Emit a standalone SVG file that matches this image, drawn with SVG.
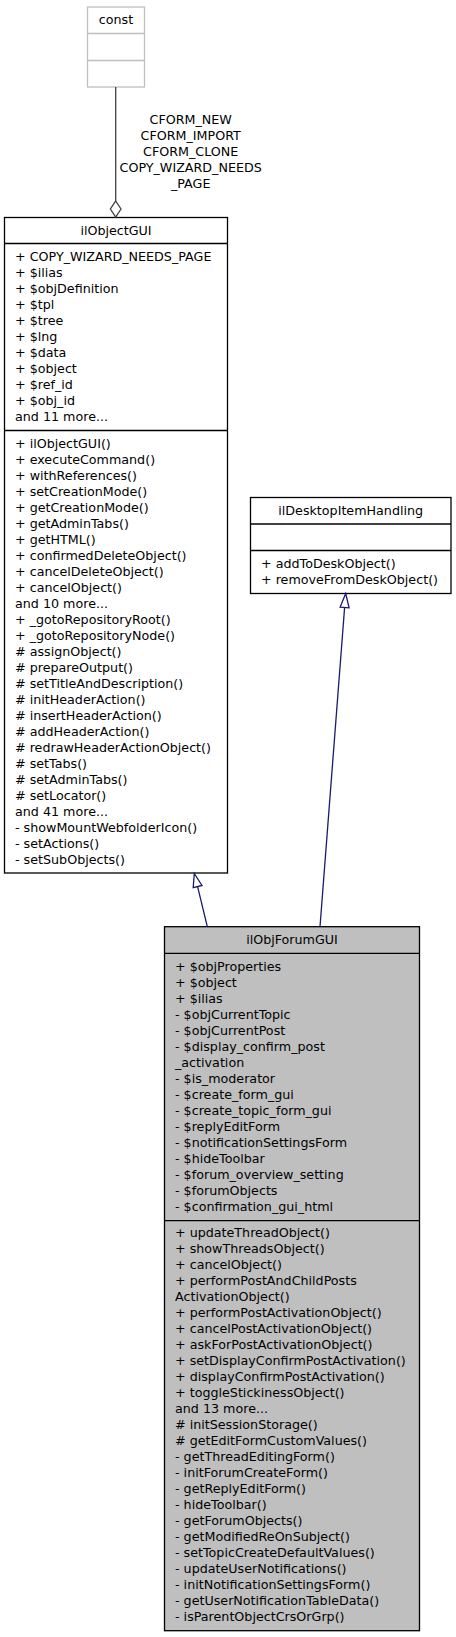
<svg xmlns="http://www.w3.org/2000/svg" width="456" height="1637" viewBox="0 0 456 1637">
<style>
text{font-family:"DejaVu Sans","Liberation Sans",sans-serif;font-size:12.7px;fill:#000}
.c{text-anchor:middle}
.box{fill:#fff;stroke:#000;stroke-width:1.3}
.gbox{fill:#fff;stroke:#bfbfbf;stroke-width:1.3}
.fbox{fill:#bfbfbf;stroke:#000;stroke-width:1.3}
.inh{fill:none;stroke:#191970;stroke-width:1.3}
.head{fill:#fff;stroke:#191970;stroke-width:1.3}
.comp{fill:none;stroke:#404040;stroke-width:1.3}
</style>
<g id="const">
<rect class="gbox" x="87.5" y="7" width="57" height="80"/>
<line class="gbox" x1="87.5" y1="33.5" x2="144.5" y2="33.5"/>
<line class="gbox" x1="87.5" y1="60.5" x2="144.5" y2="60.5"/>
<text class="c" x="116" y="24">const</text>
</g>
<g id="ilObjectGUI">
<rect class="box" x="4.5" y="217.5" width="223" height="655.5"/>
<line class="box" x1="4.5" y1="243.5" x2="227.5" y2="243.5"/>
<line class="box" x1="4.5" y1="430.5" x2="227.5" y2="430.5"/>
<text class="c" x="116" y="235">ilObjectGUI</text>
<text x="15" y="261"><tspan x="15">+ COPY_WIZARD_NEEDS_PAGE</tspan><tspan x="15" dy="16">+ $ilias</tspan><tspan x="15" dy="16">+ $objDefinition</tspan><tspan x="15" dy="16">+ $tpl</tspan><tspan x="15" dy="16">+ $tree</tspan><tspan x="15" dy="16">+ $lng</tspan><tspan x="15" dy="16">+ $data</tspan><tspan x="15" dy="16">+ $object</tspan><tspan x="15" dy="16">+ $ref_id</tspan><tspan x="15" dy="16">+ $obj_id</tspan><tspan x="15" dy="16">and 11 more...</tspan></text>
<text x="15" y="448"><tspan x="15">+ ilObjectGUI()</tspan><tspan x="15" dy="16">+ executeCommand()</tspan><tspan x="15" dy="16">+ withReferences()</tspan><tspan x="15" dy="16">+ setCreationMode()</tspan><tspan x="15" dy="16">+ getCreationMode()</tspan><tspan x="15" dy="16">+ getAdminTabs()</tspan><tspan x="15" dy="16">+ getHTML()</tspan><tspan x="15" dy="16">+ confirmedDeleteObject()</tspan><tspan x="15" dy="16">+ cancelDeleteObject()</tspan><tspan x="15" dy="16">+ cancelObject()</tspan><tspan x="15" dy="16">and 10 more...</tspan><tspan x="15" dy="16">+ _gotoRepositoryRoot()</tspan><tspan x="15" dy="16">+ _gotoRepositoryNode()</tspan><tspan x="15" dy="16"># assignObject()</tspan><tspan x="15" dy="16"># prepareOutput()</tspan><tspan x="15" dy="16"># setTitleAndDescription()</tspan><tspan x="15" dy="16"># initHeaderAction()</tspan><tspan x="15" dy="16"># insertHeaderAction()</tspan><tspan x="15" dy="16"># addHeaderAction()</tspan><tspan x="15" dy="16"># redrawHeaderActionObject()</tspan><tspan x="15" dy="16"># setTabs()</tspan><tspan x="15" dy="16"># setAdminTabs()</tspan><tspan x="15" dy="16"># setLocator()</tspan><tspan x="15" dy="16">and 41 more...</tspan><tspan x="15" dy="16">- showMountWebfolderIcon()</tspan><tspan x="15" dy="16">- setActions()</tspan><tspan x="15" dy="16">- setSubObjects()</tspan></text>
</g>
<g id="ilDesktopItemHandling">
<rect class="box" x="250.5" y="497.5" width="200.5" height="96"/>
<line class="box" x1="250.5" y1="524" x2="451" y2="524"/>
<line class="box" x1="250.5" y1="550.5" x2="451" y2="550.5"/>
<text class="c" x="350.7" y="515">ilDesktopItemHandling</text>
<text x="261" y="567.5"><tspan x="261">+ addToDeskObject()</tspan><tspan x="261" dy="16">+ removeFromDeskObject()</tspan></text>
</g>
<g id="ilObjForumGUI">
<rect class="fbox" x="164.5" y="926.7" width="255" height="704"/>
<line class="fbox" x1="164.5" y1="953.3" x2="419.5" y2="953.3"/>
<line class="fbox" x1="164.5" y1="1220.7" x2="419.5" y2="1220.7"/>
<text class="c" x="292" y="943.5">ilObjForumGUI</text>
<text x="175" y="971"><tspan x="175">+ $objProperties</tspan><tspan x="175" dy="16">+ $object</tspan><tspan x="175" dy="16">+ $ilias</tspan><tspan x="175" dy="16">- $objCurrentTopic</tspan><tspan x="175" dy="16">- $objCurrentPost</tspan><tspan x="175" dy="16">- $display_confirm_post</tspan><tspan x="175" dy="16">_activation</tspan><tspan x="175" dy="16">- $is_moderator</tspan><tspan x="175" dy="16">- $create_form_gui</tspan><tspan x="175" dy="16">- $create_topic_form_gui</tspan><tspan x="175" dy="16">- $replyEditForm</tspan><tspan x="175" dy="16">- $notificationSettingsForm</tspan><tspan x="175" dy="16">- $hideToolbar</tspan><tspan x="175" dy="16">- $forum_overview_setting</tspan><tspan x="175" dy="16">- $forumObjects</tspan><tspan x="175" dy="16">- $confirmation_gui_html</tspan></text>
<text x="175" y="1237"><tspan x="175">+ updateThreadObject()</tspan><tspan x="175" dy="16">+ showThreadsObject()</tspan><tspan x="175" dy="16">+ cancelObject()</tspan><tspan x="175" dy="16">+ performPostAndChildPosts</tspan><tspan x="175" dy="16">ActivationObject()</tspan><tspan x="175" dy="16">+ performPostActivationObject()</tspan><tspan x="175" dy="16">+ cancelPostActivationObject()</tspan><tspan x="175" dy="16">+ askForPostActivationObject()</tspan><tspan x="175" dy="16">+ setDisplayConfirmPostActivation()</tspan><tspan x="175" dy="16">+ displayConfirmPostActivation()</tspan><tspan x="175" dy="16">+ toggleStickinessObject()</tspan><tspan x="175" dy="16">and 13 more...</tspan><tspan x="175" dy="16"># initSessionStorage()</tspan><tspan x="175" dy="16"># getEditFormCustomValues()</tspan><tspan x="175" dy="16">- getThreadEditingForm()</tspan><tspan x="175" dy="16">- initForumCreateForm()</tspan><tspan x="175" dy="16">- getReplyEditForm()</tspan><tspan x="175" dy="16">- hideToolbar()</tspan><tspan x="175" dy="16">- getForumObjects()</tspan><tspan x="175" dy="16">- getModifiedReOnSubject()</tspan><tspan x="175" dy="16">- setTopicCreateDefaultValues()</tspan><tspan x="175" dy="16">- updateUserNotifications()</tspan><tspan x="175" dy="16">- initNotificationSettingsForm()</tspan><tspan x="175" dy="16">- getUserNotificationTableData()</tspan><tspan x="175" dy="16">- isParentObjectCrsOrGrp()</tspan></text>
</g>
<g id="connectors">
<line class="comp" x1="115.7" y1="87" x2="115.7" y2="201"/>
<polygon class="comp" points="115.7,201 121,209 115.7,217 110.4,209" style="fill:#fff"/>
<text class="c" x="190.7" y="123.5"><tspan x="190.7">CFORM_NEW</tspan><tspan x="190.7" dy="16">CFORM_IMPORT</tspan><tspan x="190.7" dy="16">CFORM_CLONE</tspan><tspan x="190.7" dy="16">COPY_WIZARD_NEEDS</tspan><tspan x="190.7" dy="16">_PAGE</tspan></text>
<line class="inh" x1="207.3" y1="926.7" x2="197.6" y2="886.6"/>
<polygon class="head" points="194.3,873.5 202,885.5 193.2,887.7"/>
<line class="inh" x1="320" y1="926.7" x2="344.6" y2="607.5"/>
<polygon class="head" points="345.7,593.5 349.1,607.9 340.1,607.2"/>
</g>
</svg>
